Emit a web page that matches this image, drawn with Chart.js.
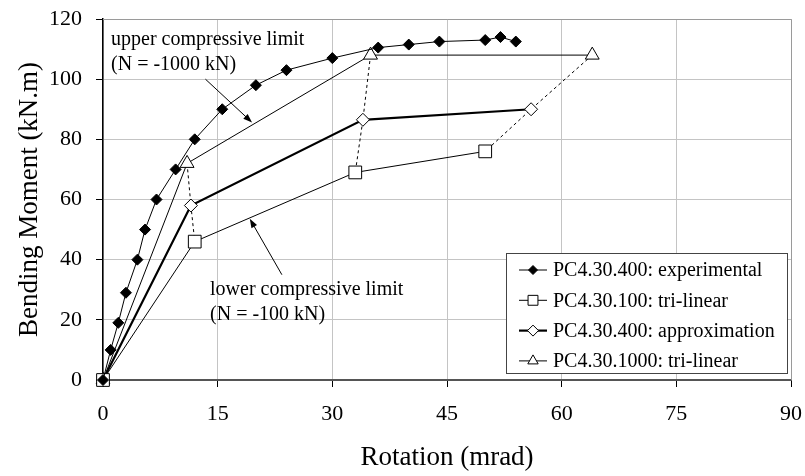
<!DOCTYPE html>
<html>
<head>
<meta charset="utf-8">
<script src="https://cdn.jsdelivr.net/npm/chart.js@4.4.1/dist/chart.umd.min.js"></script>
<style>
  html, body { margin: 0; padding: 0; background: #fff; }
</style>
</head>
<body>
<canvas id="chart" width="805" height="476"></canvas>
<script>
const FONT = "'Liberation Serif', 'Times New Roman', serif"

// PC4.30.400 experimental
const expRot = [0, 1, 2, 3, 4.5, 5.5, 7, 9.5, 12, 15.6, 20, 24, 30, 36, 40, 44, 50, 52, 54]
const expMom = [0, 10, 19, 29, 40, 50, 60, 70, 80, 90, 98, 103, 107, 110.5, 111.5, 112.5, 113, 114, 112.5]

// PC4.30.100 tri-linear
const tri100Rot = [0, 12, 33, 50]
const tri100Mom = [0, 46, 69, 76]

// PC4.30.400 approximation
const approxRot = [0, 11.5, 34, 56]
const approxMom = [0, 58, 86.5, 90]

// PC4.30.1000 tri-linear
const tri1000Rot = [0, 11, 35, 64]
const tri1000Mom = [0, 72, 108, 108]

const xTicks = [0, 15, 30, 45, 60, 75, 90]
const yTicks = [0, 20, 40, 60, 80, 100, 120]

const legendLabels = [
  'PC4.30.400: experimental',
  'PC4.30.100: tri-linear',
  'PC4.30.400: approximation',
  'PC4.30.1000: tri-linear'
]

const toPts = (xs, ys) => xs.map((x, i) => ({ x, y: ys[i] }))

// dashed links joining matching corners of the three tri-linear curves
const links = [1, 2, 3].map(i => [
  { x: tri1000Rot[i], y: tri1000Mom[i] },
  { x: approxRot[i], y: approxMom[i] },
  { x: tri100Rot[i], y: tri100Mom[i] }
])

const series = [
  {
    label: legendLabels[0],
    data: toPts(expRot, expMom),
    borderColor: '#000',
    borderWidth: 1,
    pointStyle: 'rectRot',
    pointRadius: 5.5,
    pointBackgroundColor: '#000',
    pointBorderColor: '#000',
    pointBorderWidth: 1,
    legendRadius: 4.5
  },
  {
    label: legendLabels[1],
    data: toPts(tri100Rot, tri100Mom),
    borderColor: '#000',
    borderWidth: 1,
    pointStyle: 'rect',
    pointRadius: 9,
    pointBackgroundColor: '#fff',
    pointBorderColor: '#000',
    pointBorderWidth: 1,
    legendRadius: 7
  },
  {
    label: legendLabels[2],
    data: toPts(approxRot, approxMom),
    borderColor: '#000',
    borderWidth: 2.2,
    pointStyle: 'rectRot',
    pointRadius: 6.5,
    pointBackgroundColor: '#fff',
    pointBorderColor: '#000',
    pointBorderWidth: 1,
    legendRadius: 5.5
  },
  {
    label: legendLabels[3],
    data: toPts(tri1000Rot, tri1000Mom),
    borderColor: '#000',
    borderWidth: 1,
    pointStyle: 'triangle',
    pointRadius: 8,
    pointBackgroundColor: '#fff',
    pointBorderColor: '#000',
    pointBorderWidth: 1,
    legendRadius: 6
  }
]

const linkSets = links.map(pts => ({
  data: pts,
  borderColor: '#000',
  borderWidth: 1,
  borderDash: [3, 3],
  pointRadius: 0
}))

// text notes + arrows, in data units
const notes = [
  { x: 1.05, y: 111.3, lines: ['upper compressive limit', '(N = -1000 kN)'], from: [13.4, 100], to: [19.5, 85.6] },
  { x: 14.0, y: 28.3, lines: ['lower compressive limit', '(N = -100 kN)'], from: [23.4, 35], to: [19.2, 53.6] }
]

const drawArrow = (ctx, x1, y1, x2, y2) => {
  const ang = Math.atan2(y2 - y1, x2 - x1)
  const len = 9
  const half = 3.2
  ctx.beginPath()
  ctx.moveTo(x1, y1)
  ctx.lineTo(x2 - Math.cos(ang) * len * 0.8, y2 - Math.sin(ang) * len * 0.8)
  ctx.stroke()
  ctx.beginPath()
  ctx.moveTo(x2, y2)
  ctx.lineTo(x2 - Math.cos(ang) * len - Math.sin(ang) * half, y2 - Math.sin(ang) * len + Math.cos(ang) * half)
  ctx.lineTo(x2 - Math.cos(ang) * len + Math.sin(ang) * half, y2 - Math.sin(ang) * len - Math.cos(ang) * half)
  ctx.closePath()
  ctx.fill()
}

const notesPlugin = {
  id: 'notes',
  afterDatasetsDraw(chart) {
    const { ctx, chartArea } = chart
    const xs = chart.scales.x
    const ys = chart.scales.y
    ctx.save()

    // plot border (right / top)
    ctx.strokeStyle = '#9a9a9a'
    ctx.lineWidth = 1
    ctx.beginPath()
    ctx.moveTo(chartArea.left, chartArea.top + 0.5)
    ctx.lineTo(chartArea.right + 0.5, chartArea.top + 0.5)
    ctx.lineTo(chartArea.right + 0.5, chartArea.bottom)
    ctx.stroke()

    ctx.fillStyle = '#000'
    ctx.strokeStyle = '#000'
    ctx.font = '20px ' + FONT
    ctx.textBaseline = 'alphabetic'
    ctx.textAlign = 'left'
    notes.forEach(n => {
      const px = xs.getPixelForValue(n.x)
      const py = ys.getPixelForValue(n.y)
      n.lines.forEach((t, i) => ctx.fillText(t, px, py + i * 25))
      drawArrow(ctx,
        xs.getPixelForValue(n.from[0]), ys.getPixelForValue(n.from[1]),
        xs.getPixelForValue(n.to[0]), ys.getPixelForValue(n.to[1]))
    })

    // legend box
    const w = 281
    const h = 120
    const left = chartArea.right - 4 - w
    const top = chartArea.bottom - 7 - h
    ctx.fillStyle = '#fff'
    ctx.fillRect(left, top, w, h)
    ctx.strokeStyle = '#444'
    ctx.lineWidth = 1
    ctx.strokeRect(left + 0.5, top + 0.5, w, h)

    series.forEach((s, i) => {
      const cy = top + 17 + i * 30.3
      ctx.strokeStyle = '#000'
      ctx.lineWidth = s.borderWidth
      ctx.beginPath()
      ctx.moveTo(left + 13, cy)
      ctx.lineTo(left + 41, cy)
      ctx.stroke()
      ctx.fillStyle = s.pointBackgroundColor
      ctx.lineWidth = 1
      Chart.helpers.drawPoint(ctx, { pointStyle: s.pointStyle, radius: s.legendRadius, rotation: 0, borderWidth: 1 }, left + 27, cy)
      ctx.fillStyle = '#000'
      ctx.textBaseline = 'middle'
      ctx.fillText(s.label, left + 47, cy + 1)
    })

    ctx.restore()
  }
}

const chart = new Chart(document.getElementById('chart'), {
  type: 'scatter',
  data: {
    datasets: [
      ...series.map(s => ({ ...s, showLine: true, clip: false })),
      ...linkSets.map(s => ({ ...s, showLine: true, clip: false }))
    ]
  },
  options: {
    responsive: false,
    animation: false,
    events: [],
    layout: { padding: { left: 0, right: 14, top: 19, bottom: 0 } },
    plugins: {
      legend: { display: false },
      tooltip: { enabled: false }
    },
    scales: {
      x: {
        type: 'linear',
        min: 0,
        max: 90,
        afterBuildTicks: s => { s.ticks = xTicks.map(v => ({ value: v })) },
        afterFit: s => {
          s.height = 96
          s.paddingLeft = 0
          s.paddingRight = 0
        },
        grid: { color: '#c4c4c4', tickColor: '#000', tickLength: 7, lineWidth: 1 },
        border: { color: '#555', width: 2 },
        ticks: { color: '#000', font: { family: FONT, size: 22 }, padding: 14, maxRotation: 0 },
        title: { display: true, text: 'Rotation (mrad)', color: '#000', font: { family: FONT, size: 27 }, padding: { top: 0, bottom: 2 } }
      },
      y: {
        type: 'linear',
        min: 0,
        max: 120,
        afterBuildTicks: s => { s.ticks = yTicks.map(v => ({ value: v })) },
        afterFit: s => {
          s.width = 103
          s.paddingTop = 0
          s.paddingBottom = 0
        },
        grid: { color: '#c4c4c4', tickColor: '#000', tickLength: 7, lineWidth: 1 },
        border: { color: '#000', width: 1.5 },
        ticks: { color: '#000', font: { family: FONT, size: 22 }, padding: 14 },
        title: { display: true, text: 'Bending Moment (kN.m)', color: '#000', font: { family: FONT, size: 27 }, padding: { top: 14, bottom: 0 } }
      }
    }
  },
  plugins: [notesPlugin]
})
</script>
</body>
</html>
